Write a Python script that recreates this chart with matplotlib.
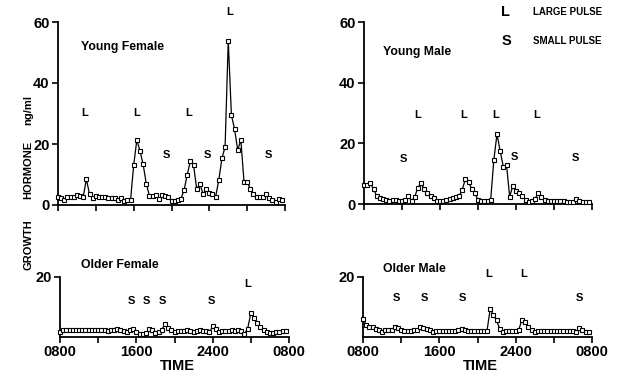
import numpy as np
import matplotlib
matplotlib.use("Agg")
import matplotlib.pyplot as plt

plt.rcParams['font.family'] = ['Liberation Sans', 'DejaVu Sans']

# sample times: every 20 min from 08:00 (hours after 08:00)
hours = np.arange(72) / 3.0

young_female = [2.5, 2.3, 1.8, 2.7, 2.7, 2.7, 3.2, 3.0, 2.6, 8.5,
                3.5, 2.2, 3.0, 2.5, 2.5, 2.5, 2.4, 2.4, 2.4, 1.5,
                2.2, 1.3, 1.5, 1.5, 13.0, 21.3, 17.8, 13.3, 7.0, 3.0,
                2.8, 3.2, 2.0, 3.3, 3.0, 2.5, 1.3, 1.3, 1.8, 2.0,
                4.9, 10.0, 14.4, 13.1, 5.2, 7.0, 3.6, 5.3, 4.0, 3.5,
                2.7, 8.2, 15.3, 19.1, 53.9, 29.5, 24.9, 18.0, 21.3, 7.6,
                7.6, 5.2, 3.6, 2.5, 2.5, 2.5, 3.6, 2.3, 1.8, 1.0,
                2.0, 1.7]

young_male = [6.3, 6.3, 6.9, 4.9, 2.6, 2.0, 1.6, 1.3, 1.0, 1.3,
              1.3, 1.0, 1.0, 1.3, 2.6, 1.0, 2.3, 5.4, 6.9, 4.9,
              3.6, 2.6, 2.0, 1.0, 1.0, 1.0, 1.3, 1.5, 2.0, 2.3,
              2.6, 4.6, 8.2, 7.3, 5.0, 3.6, 1.3, 1.0, 1.0, 1.0,
              1.3, 14.5, 23.1, 17.4, 12.3, 13.0, 2.4, 6.0, 4.3, 3.5,
              2.8, 1.3, 0.5, 1.0, 1.7, 3.6, 2.4, 1.3, 1.0, 1.0,
              1.0, 1.0, 1.0, 1.0, 0.8, 0.8, 0.8, 1.6, 1.0, 0.6,
              0.8, 0.8]

older_female = [1.8, 2.3, 2.2, 2.4, 2.3, 2.2, 2.5, 2.5, 2.5, 2.3,
                2.2, 2.4, 2.5, 2.3, 2.2, 2.0, 2.5, 2.3, 2.6, 2.2,
                2.0, 1.6, 2.4, 2.8, 1.8, 1.0, 1.0, 1.3, 2.6, 2.2,
                1.2, 1.7, 2.5, 4.2, 3.0, 2.2, 1.8, 2.0, 2.1, 1.9,
                2.2, 2.0, 1.8, 2.1, 2.2, 2.0, 2.1, 1.6, 3.6, 2.6,
                1.8, 2.0, 2.1, 1.9, 2.2, 2.0, 2.2, 2.1, 1.0, 2.8,
                7.9, 6.5, 4.8, 3.4, 2.5, 1.8, 1.2, 1.5, 1.8, 1.8,
                2.0, 2.0]

older_male = [6.1, 4.1, 3.3, 3.3, 2.6, 2.2, 1.7, 2.2, 2.2, 2.2,
              3.3, 3.0, 2.2, 2.0, 1.9, 2.0, 2.2, 2.4, 3.3, 3.1,
              2.8, 2.2, 1.7, 1.9, 1.9, 1.9, 1.9, 1.9, 1.9, 2.0,
              2.4, 2.7, 2.2, 2.0, 2.0, 2.0, 2.0, 2.0, 2.0, 2.1,
              9.4, 7.2, 5.6, 2.6, 1.7, 1.9, 1.9, 1.9, 1.9, 2.5,
              5.8, 5.0, 3.3, 2.2, 1.7, 1.9, 1.9, 1.9, 1.9, 1.9,
              1.9, 1.9, 1.9, 1.9, 1.9, 1.9, 1.9, 1.7, 3.1, 2.2,
              1.6, 1.6]

# pulse annotations: (hour, value, letter)
yf_pulses = [(2.85, 30, 'L'), (8.3, 30, 'L'), (13.85, 30, 'L'), (18.1, 63.4, 'L'),
             (11.5, 16.3, 'S'), (15.8, 16.3, 'S'), (22.3, 16.3, 'S')]
ym_pulses = [(4.2, 14.7, 'S'), (5.65, 29.4, 'L'), (10.5, 29.4, 'L'), (13.9, 29.4, 'L'),
             (18.2, 29.4, 'L'), (15.8, 15.6, 'S'), (22.3, 15.3, 'S')]
of_pulses = [(7.5, 12, 'S'), (9.1, 12, 'S'), (10.7, 12, 'S'), (15.9, 12, 'S'),
             (19.7, 17.6, 'L')]
om_pulses = [(3.5, 12.9, 'S'), (6.4, 12.9, 'S'), (10.4, 12.9, 'S'),
             (13.2, 21, 'L'), (16.8, 21, 'L'), (22.7, 12.9, 'S')]

xtick_pos = [0, 4, 8, 12, 16, 20, 24]
xtick_labels = ['0800', '', '1600', '', '2400', '', '0800']

W, H = 624, 380
fig = plt.figure(figsize=(W / 100, H / 100), dpi=100)


def px_axes(x0, x1, y_top, y_bot):
    return fig.add_axes([x0 / W, 1 - y_bot / H, (x1 - x0) / W, (y_bot - y_top) / H])


def style(ax, ymax, yticks, show_xlabels):
    ax.set_xlim(0, 24)
    ax.set_ylim(0, ymax)
    ax.spines['top'].set_visible(False)
    ax.spines['right'].set_visible(False)
    for s in ('left', 'bottom'):
        ax.spines[s].set_linewidth(1.3)
    ax.set_yticks(yticks)
    ax.set_yticklabels([str(t) for t in yticks], fontsize=10.5, fontweight='bold')
    ax.set_xticks(xtick_pos)
    if show_xlabels:
        ax.set_xticklabels(xtick_labels, fontsize=10.5, fontweight='bold')
    else:
        ax.set_xticklabels([])
    ax.tick_params(direction='out', length=4, width=1.2, pad=2)
    ax.patch.set_alpha(0)


def draw(ax, vals, pulses, title, tx, ty):
    ax.plot(hours, vals, color='black', lw=0.9, marker='s', ms=3.2,
            mfc='white', mec='black', mew=0.8, clip_on=False, zorder=3)
    for h, v, t in pulses:
        ax.text(h, v, t, ha='center', va='center', fontsize=8, fontweight='bold')
    ax.text(tx, ty, title, transform=ax.transAxes, fontsize=8.8,
            fontweight='bold', ha='left', va='center')


ax1 = px_axes(58, 285, 22, 205)
style(ax1, 60, [0, 20, 40, 60], False)
draw(ax1, young_female, yf_pulses, 'Young Female', (81 - 58) / 227, 1 - (47 - 22) / 183)

ax2 = px_axes(364, 592, 22, 204)
style(ax2, 60, [0, 20, 40, 60], False)
draw(ax2, young_male, ym_pulses, 'Young Male', (383 - 364) / 228, 1 - (52 - 22) / 182)

ax3 = px_axes(60, 289, 277, 337)
style(ax3, 20, [20], True)
draw(ax3, older_female, of_pulses, 'Older Female', (81 - 60) / 229, 1 + (277 - 265) / 60)

ax4 = px_axes(363, 592, 277, 337)
style(ax4, 20, [20], True)
draw(ax4, older_male, om_pulses, 'Older Male', (383 - 363) / 229, 1 + (277 - 269) / 60)

for xc in (177, 480):
    fig.text(xc / W, 1 - 366 / H, 'TIME', ha='center', va='center',
             fontsize=10.5, fontweight='bold')

for txt, yc in (('GROWTH', 245), ('HORMONE', 170), ('ng/ml', 110)):
    fig.text(28 / W, 1 - yc / H, txt, rotation=90,
             ha='center', va='center', fontsize=8, fontweight='bold')

# legend
fig.text(506 / W, 1 - 12 / H, 'L', ha='center', va='center', fontsize=10.5, fontweight='bold')
fig.text(533 / W, 1 - 12 / H, 'LARGE PULSE', ha='left', va='center', fontsize=7, fontweight='bold')
fig.text(506 / W, 1 - 41 / H, 'S', ha='center', va='center', fontsize=10.5, fontweight='bold')
fig.text(533 / W, 1 - 41 / H, 'SMALL PULSE', ha='left', va='center', fontsize=7, fontweight='bold')

fig.savefig('out.png', dpi=100, facecolor='white')
